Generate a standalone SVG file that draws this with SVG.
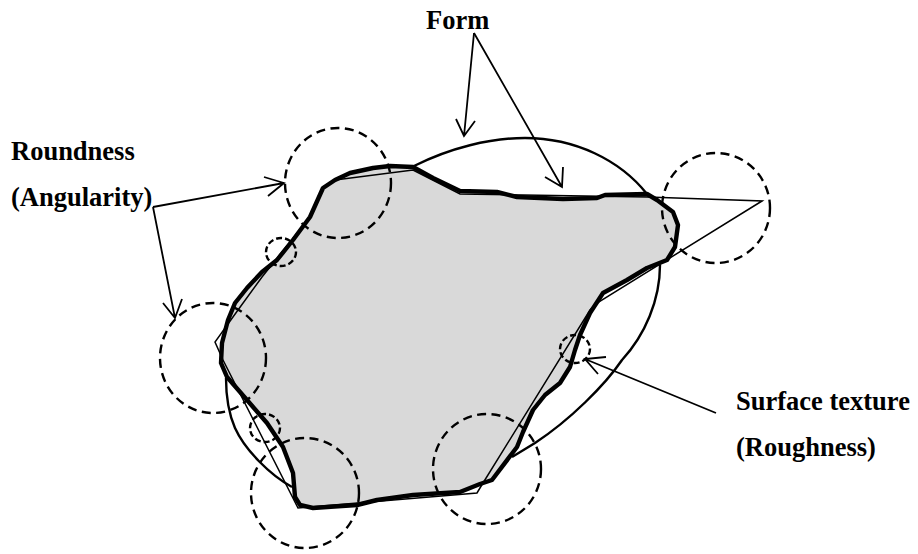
<svg xmlns="http://www.w3.org/2000/svg" width="918" height="554" viewBox="0 0 918 554">
<style>
text{font-family:"Liberation Serif","Times New Roman",serif;font-weight:700;font-size:26.5px;fill:#000}
.e{fill:none;stroke:#000;stroke-width:2.4}
.t{fill:none;stroke:#000;stroke-width:1.5;stroke-linejoin:miter}
.o{fill:#d9d9d9;stroke:#000;stroke-width:4.4;stroke-linejoin:round}
.d{fill:none;stroke:#000;stroke-width:2.4;stroke-dasharray:9 5.5}
.s{stroke-dasharray:6 3}
.a{fill:none;stroke:#000;stroke-width:1.8}
</style>
<rect width="918" height="554" fill="#fff"/>
<g id="ellipse">
<path class="e" d="M414,166C450,148 490,138 525,138C575,138 620,160 647,194"/>
<path class="e" d="M660,265C660,300 645,335 622,360C605,385 570,420 535,443L512,457"/>
<path class="e" d="M226,378C226,395 228,412 235,428C245,450 270,475 292,487"/>
</g>
<g id="particle">
<path class="o" d="M335,180L350,173L373,168L390,166L413,167L433,178L460,191L497,192L517,197L563,199L597,198L605,195L647,194L657,200L673,212L678,225L675,247L667,260L647,268L627,280L603,293L590,313L580,335L575,350L570,367L560,383L545,395L533,410L523,432L517,447L492,480L480,484L460,492L413,495L377,500L357,505L313,508L300,505L295,497L293,473L283,447L267,423L247,400L227,377L221,363L222,343L228,320L235,303L247,288L262,272L277,260L293,240L310,217L323,188Z"/>
</g>
<g id="form-polygon">
<path class="t" d="M335,180L413,170L460,194L647,197L762,201L597,303L590,310L483,483L477,493L298,508L223,360L215,342L238,310L262,277L310,217"/>
</g>
<g id="corner-circles">
<ellipse class="d" cx="338" cy="183" rx="53" ry="55"/>
<ellipse class="d" cx="213" cy="358" rx="53" ry="55"/>
<ellipse class="d" cx="305" cy="493" rx="54" ry="55"/>
<ellipse class="d" cx="487" cy="469" rx="54" ry="55"/>
<ellipse class="d" cx="716" cy="208" rx="54" ry="55"/>
</g>
<g id="texture-circles">
<ellipse class="d s" cx="281" cy="252" rx="15" ry="14"/>
<ellipse class="d s" cx="265" cy="428" rx="15" ry="14"/>
<ellipse class="d s" cx="575" cy="349" rx="15" ry="14"/>
</g>
<g id="connectors">
<path class="a" d="M153,207L284,183M264,177L284,183L268,196"/>
<path class="a" d="M153,207L175,318M163,303L175,318L182,299"/>
<path class="a" d="M474,33L464,136M456,119L464,136L475,121"/>
<path class="a" d="M474,33L562,187M545,177L562,187L563,167"/>
<path class="a" d="M716,413L585,359M606,357L585,359L598,374"/>
</g>
<g id="labels">
<text x="426" y="29">Form</text>
<text x="11" y="160">Roundness</text>
<text x="11" y="206">(Angularity)</text>
<text x="736" y="410">Surface texture</text>
<text x="736" y="456">(Roughness)</text>
</g>
</svg>
